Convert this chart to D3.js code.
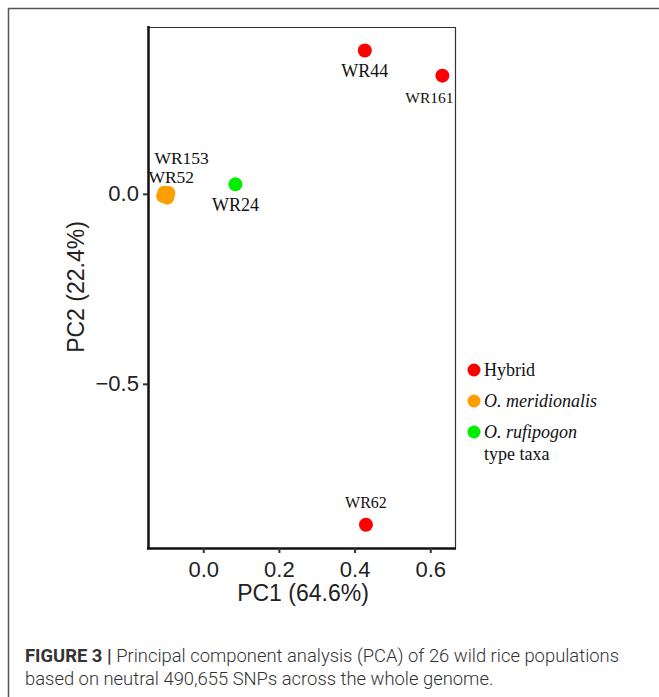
<!DOCTYPE html>
<html>
<head>
<meta charset="utf-8">
<script src="https://cdn.jsdelivr.net/npm/d3@7"></script>
<style>
  body { margin: 0; background: #fff; }
  svg { display: block; }
</style>
</head>
<body>
<svg id="chart" width="659" height="697"></svg>
<script>
// Data
const groups = ["Hybrid", "O. meridionalis", "O. rufipogon"];
const groupColors = ["#ff0000", "#ff9e00", "#00ee00"];
const sampleNames = ["WR44", "WR161", "WR24", "WR153", "WR52", "OM1", "OM2", "OM3", "WR62"];
const pc1Values = [0.427, 0.632, 0.085, -0.092, -0.100, -0.106, -0.095, -0.103, 0.430];
const pc2Values = [0.377, 0.311, 0.025, 0.002, -0.004, -0.006, -0.010, 0.003, -0.871];
const sampleGroup = [0, 0, 2, 1, 1, 1, 1, 1, 0];
const xTicks = [0.0, 0.2, 0.4, 0.6];
const yTicks = [0.0, -0.5];

const svg = d3.select("#chart");

// outer figure frame
svg.append("path")
    .attr("d", "M8.5,697 V8.5 H659")
    .attr("fill", "none")
    .attr("stroke", "#555")
    .attr("stroke-width", 1.5);

// plot panel
const panel = { left: 148, top: 27, right: 456, bottom: 548 };

const x = d3.scaleLinear()
    .domain([-0.146, 0.668])
    .range([panel.left, panel.right]);

const y = d3.scaleLinear()
    .domain([-0.932, 0.439])
    .range([panel.bottom, panel.top]);

// top/right thin border
svg.append("path")
    .attr("d", `M${panel.left},${panel.top + 0.5} H${panel.right - 0.5} V${panel.bottom}`)
    .attr("fill", "none")
    .attr("stroke", "#333")
    .attr("stroke-width", 1.2);

// axes
const xAxis = svg.append("g")
    .attr("transform", `translate(0,${panel.bottom})`)
    .call(d3.axisBottom(x).tickValues(xTicks).tickFormat(d3.format(".1f")).tickSize(5).tickSizeOuter(0));

const yAxis = svg.append("g")
    .attr("transform", `translate(${panel.left},0)`)
    .call(d3.axisLeft(y).tickValues(yTicks).tickFormat(d => d3.format(".1f")(d).replace("-", "\u2212")).tickSize(5).tickSizeOuter(0));

[xAxis, yAxis].forEach(g => {
    g.select(".domain").attr("stroke", "#111").attr("stroke-width", 2.5);
    g.selectAll(".tick line").attr("stroke", "#333").attr("stroke-width", 2);
    g.selectAll(".tick text")
        .attr("font-family", "Liberation Sans, Arial, sans-serif")
        .attr("font-size", 22)
        .attr("fill", "#222");
});
xAxis.select(".domain").attr("d", `M${panel.left - 1},0.5 H${panel.right}`);
yAxis.select(".domain").attr("d", `M0.5,${panel.top - 1} V${panel.bottom + 1}`);
xAxis.selectAll(".tick text").attr("dy", "0.95em");
yAxis.selectAll(".tick text").attr("dx", "-0.05em");

// axis titles
svg.append("text")
    .attr("x", 303)
    .attr("y", 601)
    .attr("text-anchor", "middle")
    .attr("font-family", "Liberation Sans, Arial, sans-serif")
    .attr("font-size", 23)
    .attr("fill", "#222")
    .text("PC1 (64.6%)");

svg.append("text")
    .attr("transform", `translate(84,287) rotate(-90)`)
    .attr("text-anchor", "middle")
    .attr("font-family", "Liberation Sans, Arial, sans-serif")
    .attr("font-size", 23)
    .attr("fill", "#222")
    .text("PC2 (22.4%)");

// points
const points = sampleNames.map((n, i) => ({
    name: n, pc1: pc1Values[i], pc2: pc2Values[i], g: sampleGroup[i]
}));

svg.append("g")
    .selectAll("circle")
    .data(points)
    .join("circle")
    .attr("cx", d => x(d.pc1))
    .attr("cy", d => y(d.pc2))
    .attr("r", 7)
    .attr("fill", d => groupColors[d.g]);

// point labels (offsets in px relative to the point)
const labelPos = {
    WR44: { dx: 0, dy: 26, anchor: "middle", size: 18 },
    WR161: { dx: -13, dy: 27, anchor: "middle", size: 15.5 },
    WR24: { dx: 0, dy: 27, anchor: "middle", size: 18 },
    WR153: { dx: -14, dy: -29, anchor: "start", size: 17.5 },
    WR52: { dx: -17, dy: -12, anchor: "start", size: 17.5 },
    WR62: { dx: 0, dy: -17, anchor: "middle", size: 16 }
};

svg.append("g")
    .selectAll("text")
    .data(points.filter(d => labelPos[d.name]))
    .join("text")
    .attr("x", d => x(d.pc1) + labelPos[d.name].dx)
    .attr("y", d => y(d.pc2) + labelPos[d.name].dy)
    .attr("text-anchor", d => labelPos[d.name].anchor)
    .attr("font-family", "Liberation Serif, Times New Roman, serif")
    .attr("font-size", d => labelPos[d.name].size)
    .attr("fill", "#111")
    .text(d => d.name);

// legend
const legend = svg.append("g").attr("transform", "translate(474,370)");
const legendRows = legend.selectAll("g")
    .data(groups)
    .join("g")
    .attr("transform", (d, i) => `translate(0,${i * 31})`);

legendRows.append("circle")
    .attr("r", 6.5)
    .attr("fill", (d, i) => groupColors[i]);

legendRows.append("text")
    .attr("x", 10)
    .attr("y", 6)
    .attr("font-family", "Liberation Serif, Times New Roman, serif")
    .attr("font-size", 18)
    .attr("fill", "#111")
    .each(function (d) {
        const t = d3.select(this);
        if (d === "Hybrid") t.text(d);
        else t.attr("font-style", "italic").text(d);
    });

legend.append("text")
    .attr("x", 10)
    .attr("y", 90)
    .attr("font-family", "Liberation Serif, Times New Roman, serif")
    .attr("font-size", 18)
    .attr("fill", "#111")
    .text("type taxa");

// caption
const caption = svg.append("text")
    .attr("font-family", "Roboto, Liberation Sans, sans-serif")
    .attr("font-size", 18.4)
    .attr("font-weight", 300)
    .attr("fill", "#333");

const line1 = caption.append("tspan").attr("x", 25).attr("y", 662);
line1.append("tspan").attr("font-weight", 700).text("FIGURE 3 | ");
line1.append("tspan").text("Principal component analysis (PCA) of 26 wild rice populations");
caption.append("tspan").attr("x", 25).attr("y", 685)
    .text("based on neutral 490,655 SNPs across the whole genome.");
</script>
</body>
</html>
